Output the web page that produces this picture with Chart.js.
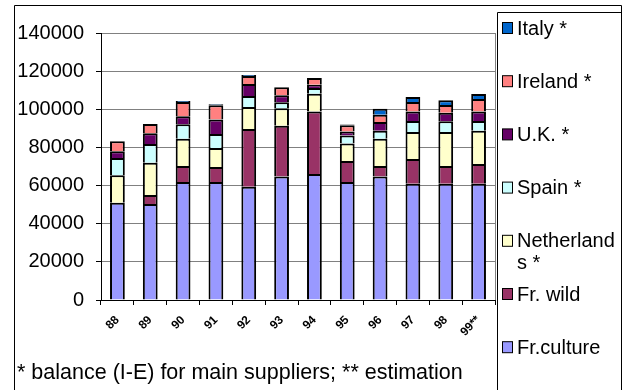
<!DOCTYPE html>
<html>
<head>
<meta charset="utf-8">
<script src="https://cdn.jsdelivr.net/npm/chart.js@4/dist/chart.umd.min.js"></script>
<style>
  html, body { margin: 0; padding: 0; background: #fff; }
  #wrap { width: 631px; height: 390px; }
</style>
</head>
<body>
<div id="wrap"><canvas id="c" width="631" height="390"></canvas></div>
<script>
// Years (1999 is an estimate)
const years = ['88', '89', '90', '91', '92', '93', '94', '95', '96', '97', '98', '99**'];

// Supply by origin, stacked from the bottom up
const frCulture   = [51000, 50300, 61900, 61900, 59400, 64700, 66100, 61900, 64700, 61000, 61000, 61000];
const frWild      = [0, 4700, 8400, 7800, 30300, 26700, 32800, 11000, 5600, 12900, 9300, 10300];
const netherlands = [14400, 17000, 14300, 10000, 11500, 9100, 9300, 9200, 14300, 14200, 17800, 17500];
const spain       = [9000, 9800, 7500, 7300, 5800, 3200, 2900, 4200, 4200, 5700, 5600, 5000];
const uk          = [3600, 5600, 4200, 7700, 6200, 3600, 1800, 2100, 4500, 5100, 4500, 5100];
const ireland     = [5200, 4900, 7500, 7400, 4200, 4200, 3500, 3200, 3900, 4900, 4000, 6500];
const italy       = [0, 0, 500, 500, 600, 0, 0, 400, 3100, 2600, 2500, 2600];

const yTicks = [0, 20000, 40000, 60000, 80000, 100000, 120000, 140000];

const seriesNames  = ['Fr.culture', 'Fr. wild', 'Netherlands *', 'Spain *', 'U.K. *', 'Ireland *', 'Italy *'];
const seriesValues = [frCulture, frWild, netherlands, spain, uk, ireland, italy];
const seriesColors = ['#9999FF', '#993366', '#FFFFCC', '#CCFFFF', '#660066', '#FF8080', '#0066CC'];

const footnote = '* balance (I-E) for main suppliers; ** estimation';
const FONT = '"Liberation Sans", Arial, sans-serif';

// Frame, plot border, legend box and footnote
const decor = {
  id: 'decor',
  afterDraw(chart) {
    const ctx = chart.ctx;
    const a = chart.chartArea;
    ctx.save();
    // right edge of the plot area
    ctx.strokeStyle = '#808080';
    ctx.lineWidth = 1;
    ctx.beginPath();
    ctx.moveTo(Math.round(a.right) + 0.5, a.top);
    ctx.lineTo(Math.round(a.right) + 0.5, a.bottom);
    ctx.stroke();

    // outer frame (open at the bottom)
    ctx.strokeStyle = '#000';
    ctx.beginPath();
    ctx.moveTo(14.5, 390);
    ctx.lineTo(14.5, 5.5);
    ctx.lineTo(621.5, 5.5);
    ctx.lineTo(621.5, 390);
    ctx.stroke();

    // legend box
    ctx.beginPath();
    ctx.moveTo(497.5, 390);
    ctx.lineTo(497.5, 12.5);
    ctx.lineTo(621.5, 12.5);
    ctx.stroke();

    // legend entries, top of the stack first
    ctx.font = '20px ' + FONT;
    ctx.textBaseline = 'middle';
    ctx.textAlign = 'left';
    const ds = chart.data.datasets;
    const maxW = 102;
    for (let k = 0; k < ds.length; k++) {
      const d = ds[ds.length - 1 - k];
      const cy = 28 + k * 53.2;
      ctx.fillStyle = d.backgroundColor;
      ctx.fillRect(502.5, cy - 5.5, 10, 11);
      ctx.strokeStyle = '#000';
      ctx.strokeRect(502.5, cy - 5.5, 10, 11);
      // wrap the label character by character inside the box
      const lines = [];
      let cur = '';
      for (const ch of d.label) {
        if (ctx.measureText(cur + ch).width > maxW && cur) { lines.push(cur); cur = ch.trim() ? ch : ''; }
        else cur += ch;
      }
      lines.push(cur);
      ctx.fillStyle = '#000';
      lines.forEach((ln, i) => ctx.fillText(ln.replace(/^\s+/, ''), 517, cy + 1 + i * 22));
    }

    // footnote
    ctx.font = '21.5px ' + FONT;
    ctx.textBaseline = 'alphabetic';
    ctx.fillText(footnote, 17, 379);
    ctx.restore();
  }
};

new Chart(document.getElementById('c'), {
  type: 'bar',
  data: {
    labels: years,
    datasets: seriesNames.map((name, i) => ({
      label: name,
      data: seriesValues[i],
      backgroundColor: seriesColors[i],
      borderColor: '#000',
      borderWidth: 2,
      barPercentage: 0.45,
      categoryPercentage: 1
    }))
  },
  options: {
    responsive: false,
    animation: false,
    devicePixelRatio: 1,
    layout: { padding: { left: 14, right: 136, top: 33, bottom: 50 } },
    plugins: { legend: { display: false }, tooltip: { enabled: false } },
    scales: {
      x: {
        stacked: true,
        afterFit(s) { s.height = 40; },
        border: { color: '#000', width: 1 },
        grid: { display: true, drawOnChartArea: false, offset: true, tickLength: 5, color: '#000' },
        ticks: {
          autoSkip: false, minRotation: 45, maxRotation: 45, padding: 8,
          color: '#000', font: { family: FONT, size: 12, weight: 'bold' }
        }
      },
      y: {
        stacked: true,
        min: 0,
        max: yTicks[yTicks.length - 1],
        afterFit(s) { s.width = 87; },
        afterBuildTicks(s) { s.ticks = yTicks.map(v => ({ value: v })); },
        border: { color: '#000', width: 1 },
        grid: { color: '#808080', tickColor: '#000', tickLength: 5 },
        ticks: {
          padding: 12, color: '#000',
          font: { family: FONT, size: 20 },
          callback: v => String(v)
        }
      }
    }
  },
  plugins: [decor]
});
</script>
</body>
</html>
